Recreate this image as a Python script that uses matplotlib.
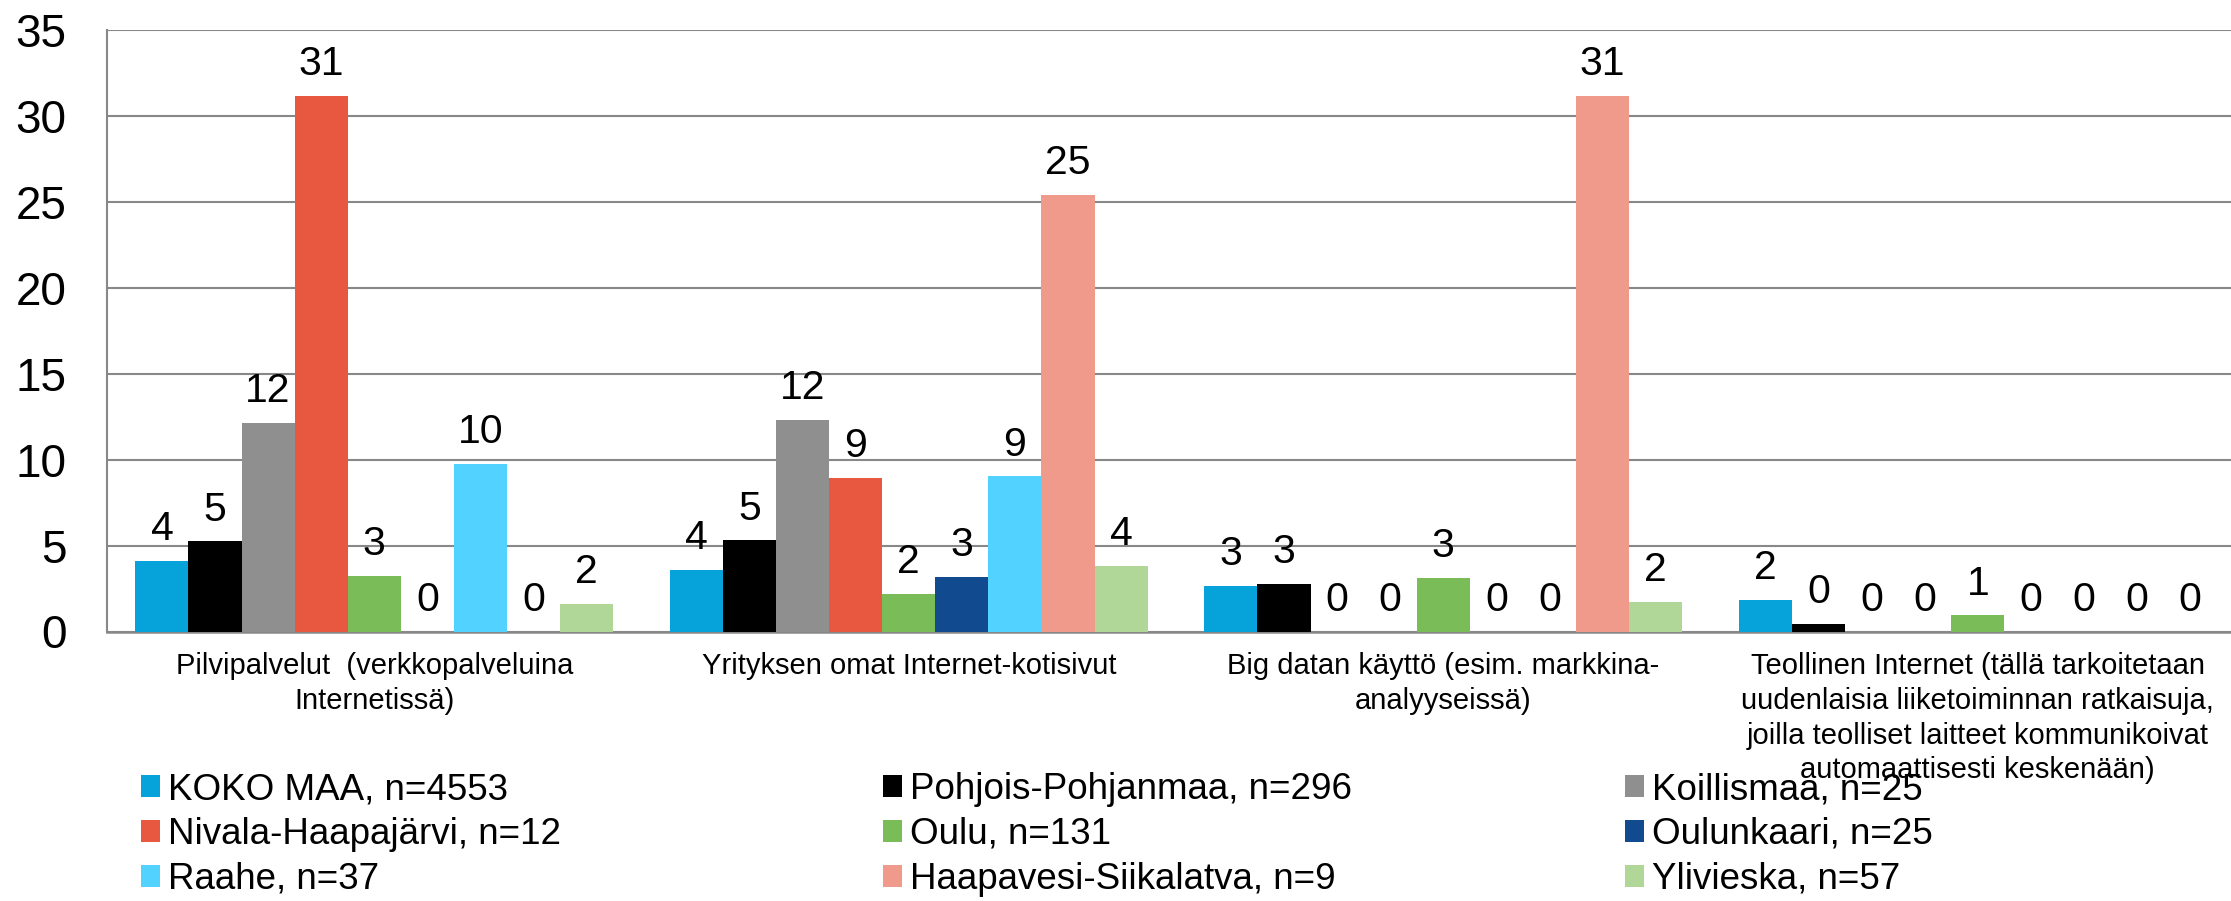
import numpy as np
import matplotlib
matplotlib.use("Agg")
import matplotlib.pyplot as plt
from matplotlib.patches import Patch

plt.rcParams['font.family'] = ['Liberation Sans', 'DejaVu Sans']

categories = [
    "Pilvipalvelut  (verkkopalveluina\nInternetissä)",
    "Yrityksen omat Internet-kotisivut",
    "Big datan käyttö (esim. markkina-\nanalyyseissä)",
    "Teollinen Internet (tällä tarkoitetaan\nuudenlaisia liiketoiminnan ratkaisuja,\njoilla teolliset laitteet kommunikoivat\nautomaattisesti keskenään)",
]

series_names = [
    "KOKO MAA, n=4553",
    "Pohjois-Pohjanmaa, n=296",
    "Koillismaa, n=25",
    "Nivala-Haapajärvi, n=12",
    "Oulu, n=131",
    "Oulunkaari, n=25",
    "Raahe, n=37",
    "Haapavesi-Siikalatva, n=9",
    "Ylivieska, n=57",
]

koko_maa = [4.1, 3.6, 2.63, 1.86]
pohjois_pohjanmaa = [5.24, 5.3, 2.78, 0.43]
koillismaa = [12.13, 12.34, 0, 0]
nivala_haapajarvi = [31.2, 8.96, 0, 0]
oulu = [3.26, 2.2, 3.14, 0.94]
oulunkaari = [0, 3.16, 0, 0]
raahe = [9.78, 9.03, 0, 0]
haapavesi_siikalatva = [0, 25.4, 31.2, 0]
ylivieska = [1.6, 3.82, 1.71, 0]

values = [koko_maa, pohjois_pohjanmaa, koillismaa, nivala_haapajarvi, oulu,
          oulunkaari, raahe, haapavesi_siikalatva, ylivieska]

colors = ["#05A3DA", "#000000", "#8F8F8F", "#E8573F", "#7ABC57",
          "#124A8F", "#52D2FF", "#F09A8C", "#B0D698"]

W, H = 2231, 901
fig = plt.figure(figsize=(W / 100, H / 100), dpi=100)
ax = fig.add_axes([107 / W, 1 - 631.5 / H, (2245 - 107) / W, 601.2 / H])

x = np.arange(len(categories))
w = 0.0993
grid_col = "#888888"

for j, (vals, col) in enumerate(zip(values, colors)):
    xs = x + (j - 4) * w
    ax.bar(xs, vals, width=w, color=col, linewidth=0, zorder=3)
    for xi, v in zip(xs, vals):
        ax.annotate(f"{v:.0f}", (xi, v), xytext=(0, 15), textcoords="offset points",
                    ha="center", va="baseline", fontsize=29.5, zorder=4)

ax.set_xlim(-0.5, 3.5)
ax.set_ylim(0, 35)
ax.set_yticks(np.arange(0, 36, 5))
ax.set_xticks(x)
ax.set_xticklabels(categories, fontsize=21, linespacing=1.3)
ax.tick_params(axis="y", length=0, pad=29, labelsize=33)
ax.tick_params(axis="x", length=0, pad=15)
ax.yaxis.grid(True, color=grid_col, linewidth=1.5)
ax.set_axisbelow(True)
for s in ["top", "right"]:
    ax.spines[s].set_visible(False)
ax.spines["left"].set_color(grid_col)
ax.spines["left"].set_linewidth(1.5)
ax.spines["bottom"].set_color(grid_col)
ax.spines["bottom"].set_linewidth(1.8)

# legend: three columns placed like the original (row-wise order)
handles = [Patch(facecolor=c, edgecolor="none") for c in colors]
col_x = [141, 883, 1625]
for k in range(3):
    idx = [k, k + 3, k + 6]
    fig.legend([handles[i] for i in idx], [series_names[i] for i in idx],
               loc="upper left", bbox_to_anchor=(col_x[k] / W, 1 - 772 / H),
               frameon=False, fontsize=26.5, borderpad=0, borderaxespad=0,
               handlelength=0.52, handleheight=0.52, handletextpad=0.22,
               labelspacing=0.27)

fig.savefig("out.png", dpi=100)
